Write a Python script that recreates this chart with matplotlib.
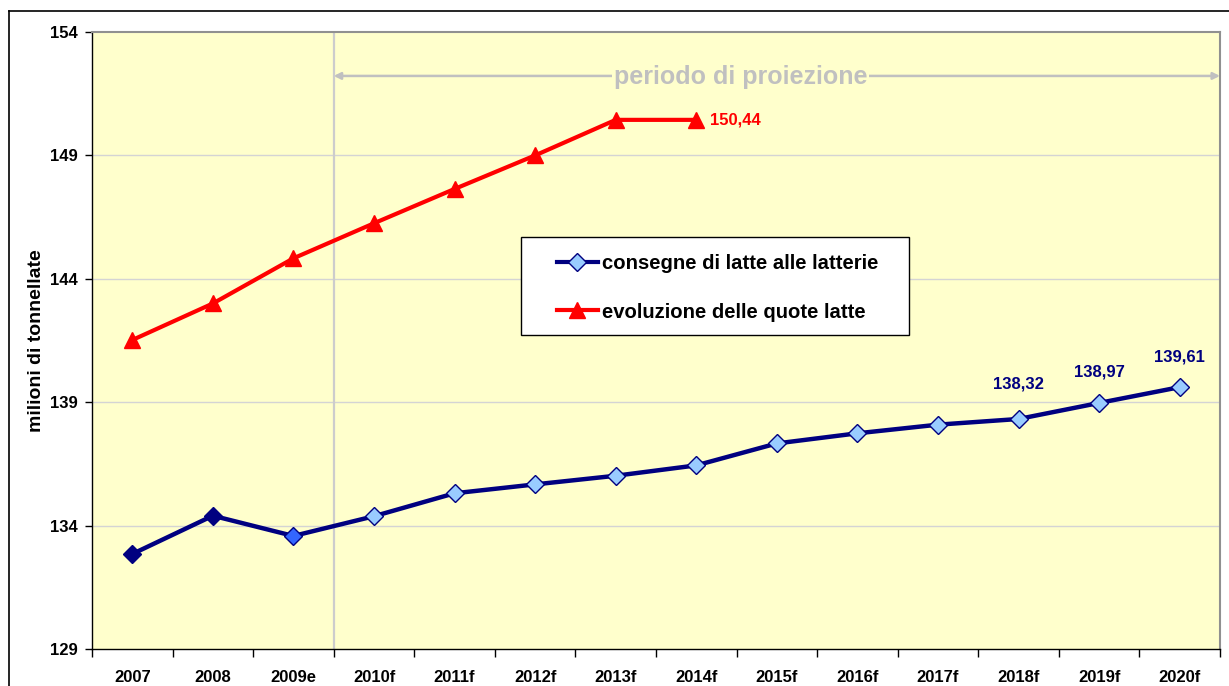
import matplotlib
matplotlib.use("Agg")
import matplotlib.pyplot as plt
from matplotlib.lines import Line2D
from matplotlib.patches import Rectangle

plt.rcParams['font.family'] = ['Liberation Sans', 'DejaVu Sans']
plt.rcParams['font.weight'] = 'bold'

categories = ["2007", "2008", "2009e", "2010f", "2011f", "2012f", "2013f",
              "2014f", "2015f", "2016f", "2017f", "2018f", "2019f", "2020f"]
consegne = [132.85, 134.40, 133.58, 134.38, 135.31, 135.67, 136.02,
            136.44, 137.33, 137.74, 138.09, 138.32, 138.97, 139.61]
quote = [141.52, 143.00, 144.83, 146.25, 147.64, 149.00, 150.44, 150.44]
y_ticks = [129, 134, 139, 144, 149, 154]
blue_labels_idx = [11, 12, 13]
red_label_idx = 7
proj_start = 2.5
proj_level = 152.22

label_consegne = "consegne di latte alle latterie"
label_quote = "evoluzione delle quote latte"
proj_text = "periodo di proiezione"

NAVY = "#000080"
RED = "#FF0000"
BG = "#FFFFCC"
GRID = "#D4D4D4"

fig = plt.figure(figsize=(12.29, 6.86), dpi=100)
ax = fig.add_axes([92/1229, 1-649/686, 1128/1229, 617/686])
ax.set_facecolor(BG)

n = len(categories)
x = list(range(n))

ax.set_xlim(-0.5, n - 0.5)
ax.set_ylim(y_ticks[0], y_ticks[-1])

# grid
for yt in y_ticks[1:-1]:
    ax.axhline(yt, color=GRID, lw=1.0, zorder=1)

# projection boundary
ax.axvline(proj_start, color="#CCCCCC", lw=1.6, zorder=1)

# projection arrow
ax.annotate("", xy=(n - 0.5, proj_level), xytext=(proj_start, proj_level),
            arrowprops=dict(arrowstyle="<|-|>", color="#C0C0C0", lw=1.8,
                            mutation_scale=10, shrinkA=0, shrinkB=0),
            zorder=2)
ax.text((proj_start + n - 0.5) / 2 - 0.45, proj_level - 0.04, proj_text,
        ha="center", va="center", fontsize=18, fontweight="bold",
        color="#C0C0C0", zorder=3,
        bbox=dict(facecolor=BG, edgecolor="none", pad=1.5))

# red series
ax.plot(x[:len(quote)], quote, color=RED, lw=3, marker="^", ms=11.5,
        mfc=RED, mec=RED, zorder=4)

# blue series
face = [NAVY, NAVY, "#3366FF"] + ["#99CCFF"] * (n - 3)
ax.plot(x, consegne, color=NAVY, lw=3.2, zorder=5)
for xi, yi, fc in zip(x, consegne, face):
    ax.plot([xi], [yi], marker="D", ms=9, mfc=fc, mec=NAVY, mew=1.0,
            zorder=6, ls="none")

# value labels
blue_offsets = [25, 22, 22]
for i, off in zip(blue_labels_idx, blue_offsets):
    ax.annotate(f"{consegne[i]:.2f}".replace(".", ","), (x[i], consegne[i]),
                xytext=(0, off), textcoords="offset points", ha="center",
                va="center", fontsize=12, fontweight="bold", color=NAVY,
                zorder=7)
ax.annotate(f"{quote[red_label_idx]:.2f}".replace(".", ","),
            (x[red_label_idx], quote[red_label_idx]),
            xytext=(10, 0), textcoords="offset points", ha="left",
            va="center", fontsize=12, fontweight="bold", color=RED, zorder=7)

# legend (box drawn separately)
ax.add_patch(Rectangle((0.3803, 0.5089), 0.3440, 0.1588,
                       transform=ax.transAxes, facecolor="white",
                       edgecolor="black", lw=1.0, zorder=9))
handles = [
    Line2D([0], [0], color=NAVY, lw=3, marker="D", ms=9, mfc="#99CCFF",
           mec=NAVY),
    Line2D([0], [0], color=RED, lw=3, marker="^", ms=11.5, mfc=RED, mec=RED),
]
leg = ax.legend(handles, [label_consegne, label_quote],
                loc="upper left", bbox_to_anchor=(0.4122, 0.640),
                prop=dict(size=14.6, weight="bold"), frameon=False,
                borderpad=0, labelspacing=1.45,
                handlelength=2.0, handletextpad=0.2, borderaxespad=0)
leg.set_zorder(10)

# ticks
ax.set_yticks(y_ticks)
ax.set_yticklabels([str(v) for v in y_ticks], fontsize=12, fontweight="bold")
ax.tick_params(axis="y", direction="out", length=5, width=1, pad=5,
               colors="black")

ax.set_xticks([i - 0.5 for i in range(n + 1)])
ax.set_xticklabels([])
ax.set_xticks(x, minor=True)
ax.set_xticklabels(categories, minor=True, fontsize=12, fontweight="bold")
ax.tick_params(axis="x", which="major", direction="out", length=6, width=1)
ax.tick_params(axis="x", which="minor", length=0, pad=15)

ax.set_ylabel("milioni di tonnellate", fontsize=14, fontweight="bold")
ax.yaxis.set_label_coords(-0.0416, 0.5)

for s in ["left", "bottom"]:
    ax.spines[s].set_color("black")
    ax.spines[s].set_linewidth(1.0)
for s in ["top", "right"]:
    ax.spines[s].set_color("#909090")
    ax.spines[s].set_linewidth(1.5)

# outer chart border (cropped)
fig.add_artist(Line2D([9/1229, 1.0], [1-11/686, 1-11/686], color="black",
                      lw=1.2, transform=fig.transFigure))
fig.add_artist(Line2D([9/1229, 9/1229], [0, 1-11/686], color="black",
                      lw=1.2, transform=fig.transFigure))

fig.savefig("out.png", dpi=100, facecolor="white")
